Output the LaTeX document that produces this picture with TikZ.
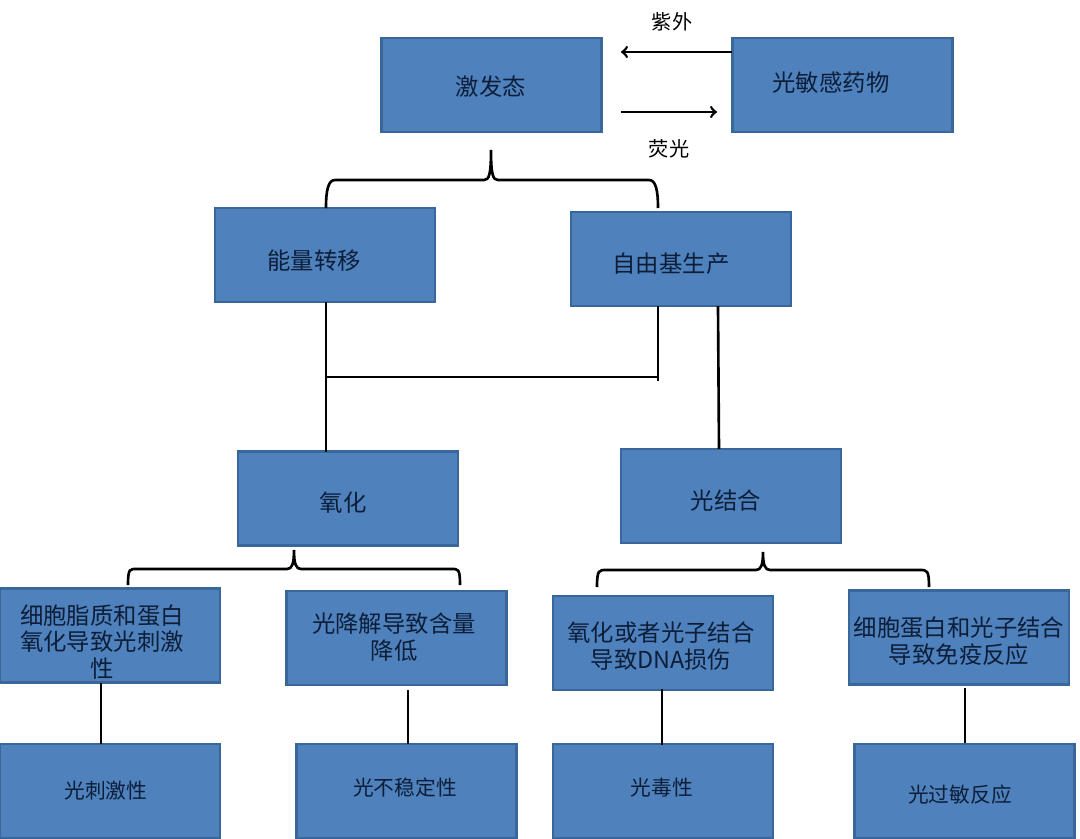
\documentclass[tikz,border=0pt]{standalone}
\usepackage{fontspec}
\usetikzlibrary{calc}
\setmainfont{Noto Sans CJK SC}
\definecolor{boxblue}{HTML}{4F81BD}
\definecolor{boxedge}{HTML}{3A6799}
\definecolor{boxtext}{HTML}{0C1E38}
\tikzset{
	blockbox/.style = {draw = boxedge, fill = boxblue, line width = 1.2 pt, minimum width = 4.4 cm, minimum height = 1.88 cm, inner sep = 0},
	blocktext/.style = {text = boxtext, align = center, inner sep = 0, font = \fontsize{13.3}{15.3}\selectfont},
	smalltext/.style = {text = boxtext, inner sep = 0, font = \fontsize{11.8}{14}\selectfont},
	sidetext/.style = {text = black, inner sep = 0, font = \fontsize{11.5}{14}\selectfont},
	link/.style = {draw = black, line width = 1.5 pt}
}
% Brace: left end, apex, right end, then bar offset from apex and from ends
\newcommand{\bracelink}[5]{
	\draw [link] (#1) .. controls ($(#1) + (0, -17)$) and ($(#1) + (2, -#5)$) .. ($(#1) + (9, -#5)$)
		-- ($(#2) + (-7, #4)$) .. controls ($(#2) + (-2, #4)$) and ($(#2) + (0, #4 - 5)$) .. (#2)
		.. controls ($(#2) + (0, #4 - 5)$) and ($(#2) + (2, #4)$) .. ($(#2) + (7, #4)$)
		-- ($(#3) + (-9, -#5)$) .. controls ($(#3) + (-2, -#5)$) and ($(#3) + (0, -17)$) .. (#3);
}
\begin{document}
\begin{tikzpicture}[x = 0.02 cm, y = -0.02 cm, > = to]

	\useasboundingbox (0, 0) rectangle (1080, 839);

	% Top row

	\node [blockbox] (excited) at (491.5, 85) {};
	\node [blockbox] (drug) at (842.5, 85) {};
	\node [blocktext] (excitedlabel) at (491, 87) {激发态};
	\node [blocktext] (druglabel) at (831, 83) {光敏感药物};

	\coordinate (uvfrom) at (732, 52);
	\coordinate (uvto) at (621, 52);
	\coordinate (flfrom) at (621, 112);
	\coordinate (flto) at (717, 112);
	\draw [link, ->] (uvfrom) -- (uvto);
	\draw [link, ->] (flfrom) -- (flto);
	\node [sidetext] (uvlabel) at (672, 22) {紫外};
	\node [sidetext] (fllabel) at (669, 149) {荧光};

	% Second row

	\node [blockbox] (energy) at (325, 255) {};
	\node [blockbox] (radical) at (681, 259) {};
	\node [blocktext] (energylabel) at (314, 261) {能量转移};
	\node [blocktext] (radicallabel) at (671, 264) {自由基生产};

	\coordinate (energyup) at (326, 208);
	\coordinate (radicalup) at (658, 208);
	\coordinate (excitedlow) at (491, 150);
	\bracelink{energyup}{excitedlow}{radicalup}{30}{28}

	% Third row

	\node [blockbox] (oxid) at (348, 498.5) {};
	\node [blockbox] (bind) at (731, 496) {};
	\node [blocktext] (oxidlabel) at (343, 503) {氧化};
	\node [blocktext] (bindlabel) at (726, 501) {光结合};

	\coordinate (energylow) at (326, 302);
	\coordinate (oxidup) at (326, 452);
	\coordinate (radicallow) at (658, 306);
	\coordinate (joinend) at (658, 381);
	\coordinate (joinleft) at (326, 377);
	\coordinate (joinright) at (658, 377);
	\coordinate (radicalside) at (718, 306);
	\coordinate (bindup) at (719, 449);
	\draw [link] (energylow) -- (oxidup);
	\draw [link] (radicallow) -- (joinend);
	\draw [link] (joinleft) -- (joinright);
	\draw [link] (radicalside) -- (bindup);

	% Fourth row

	\node [blockbox] (lipid) at (110, 635.5) {};
	\node [blockbox] (degrade) at (396.5, 638) {};
	\node [blockbox] (dnahit) at (663, 643) {};
	\node [blockbox] (immune) at (959, 637.5) {};
	\node [blocktext] (lipidlabel) at (102, 642) {细胞脂质和蛋白\\氧化导致光刺激\\性};
	\node [blocktext] (degradelabel) at (394, 637.5) {光降解导致含量\\降低};
	\node [blocktext] (dnahitlabel) at (661, 646) {氧化或者光子结合\\导致DNA损伤};
	\node [blocktext] (immunelabel) at (959, 641) {细胞蛋白和光子结合\\导致免疫反应};

	\coordinate (oxidlow) at (294, 550);
	\coordinate (lipidup) at (128, 585);
	\coordinate (degradeup) at (460, 585);
	\bracelink{lipidup}{oxidlow}{degradeup}{19}{16}

	\coordinate (bindlow) at (763, 552);
	\coordinate (dnahitup) at (597, 587);
	\coordinate (immuneup) at (929, 587);
	\bracelink{dnahitup}{bindlow}{immuneup}{18}{17}

	% Bottom row

	\node [blockbox] (irritate) at (110, 791) {};
	\node [blockbox] (unstable) at (406.5, 791) {};
	\node [blockbox] (toxic) at (663, 791) {};
	\node [blockbox] (allergy) at (964.5, 791) {};
	\node [smalltext] (irritatelabel) at (106, 791) {光刺激性};
	\node [smalltext] (unstablelabel) at (405, 788) {光不稳定性};
	\node [smalltext] (toxiclabel) at (662, 788) {光毒性};
	\node [smalltext] (allergylabel) at (960, 795) {光过敏反应};

	\coordinate (lipidlow) at (101, 683);
	\coordinate (irritateup) at (101, 744);
	\coordinate (degradelow) at (408, 690);
	\coordinate (unstableup) at (408, 744);
	\coordinate (dnahitlow) at (662, 689);
	\coordinate (toxicup) at (662, 745);
	\coordinate (immunelow) at (965, 688);
	\coordinate (allergyup) at (965, 743);
	\draw [link] (lipidlow) -- (irritateup);
	\draw [link] (degradelow) -- (unstableup);
	\draw [link] (dnahitlow) -- (toxicup);
	\draw [link] (immunelow) -- (allergyup);

\end{tikzpicture}
\end{document}
